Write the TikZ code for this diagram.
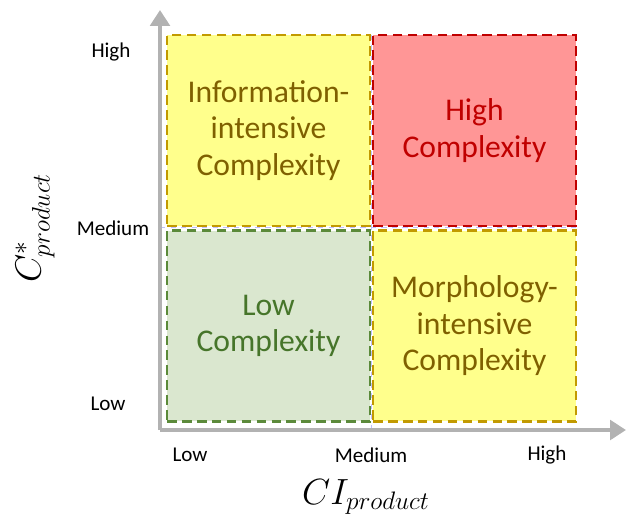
\documentclass[tikz,border=0pt]{standalone}
\usepackage{fontspec}
\setmainfont{Carlito}
\usetikzlibrary{arrows.meta}
\definecolor{boxyellow}{HTML}{FFFF8C}
\definecolor{edgeyellow}{HTML}{C29A00}
\definecolor{textyellow}{HTML}{7F6000}
\definecolor{boxred}{HTML}{FF9696}
\definecolor{edgered}{HTML}{C00000}
\definecolor{boxgreen}{HTML}{DAE7CF}
\definecolor{edgegreen}{HTML}{5B8A3A}
\definecolor{textgreen}{HTML}{46752A}
\tikzset{>={Triangle[length=9pt,width=11pt]}}
\tikzset{
  quad/.style={draw, line width=1.2pt, dash pattern=on 5.5pt off 3pt,
    minimum width=4.06cm, minimum height=3.82cm, align=center,
    font=\fontsize{18}{20.8}\selectfont},
  axis/.style={->, line width=2.8pt, draw=gray!60, fill=gray!60},
  tick/.style={font=\fontsize{12}{14}\selectfont}
}

\begin{document}
\begin{tikzpicture}[x=0.02cm,y=-0.02cm]
\useasboundingbox (0,0) rectangle (628,521);
% the four quadrants
\node[quad, fill=boxyellow, draw=edgeyellow, text=textyellow] (info) at (268.5,130.5)
  {Information-\\intensive\\Complexity};
\node[quad, fill=boxred, draw=edgered, text=edgered] (high) at (474.5,130.5)
  {High\\Complexity};
\node[quad, fill=boxgreen, draw=edgegreen, text=textgreen] (low) at (268.5,326)
  {Low\\Complexity};
\node[quad, fill=boxyellow, draw=edgeyellow, text=textyellow] (morph) at (474.5,326)
  {Morphology-\\intensive\\Complexity};
% medium lines
\coordinate (O) at (160,430);
\coordinate (xend) at (626,430);
\coordinate (yend) at (160,10);
\draw[blue!25, line width=0.6pt, dashed] (O -| info.east) -- (info.north east);
\draw[blue!25, line width=0.6pt, dashed] (O |- info.south) -- (morph.east |- info.south);
% axes
\draw[axis] (O) -- (yend);
\draw[axis] (O) -- (xend);
% tick labels
\node[tick] (yhigh) at (111,52) {High};
\node[tick] (ymed) at (113,228) {Medium};
\node[tick] (ylow) at (108,404) {Low};
\node[tick] (xlow) at (190,455) {Low};
\node[tick] (xmed) at (371,455) {Medium};
\node[tick] (xhigh) at (547,455) {High};
% axis titles
\node[font=\fontsize{21}{24}\selectfont] (xtitle) at (366,497) {$CI_{product}$};
\node[font=\fontsize{21}{24}\selectfont, rotate=90] (ytitle) at (35,228) {$C^{*}_{product}$};
\end{tikzpicture}
\end{document}
